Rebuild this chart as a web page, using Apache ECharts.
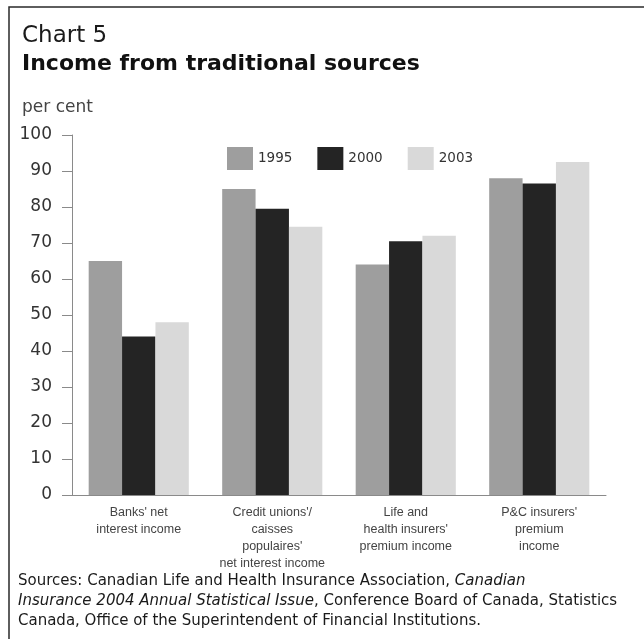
<!DOCTYPE html>
<html>
<head>
<meta charset="utf-8">
<script src="https://cdn.jsdelivr.net/npm/echarts@6/dist/echarts.min.js"></script>
<style>
html,body{margin:0;padding:0;background:#fff;}
#chart{width:644px;height:639px;}
</style>
</head>
<body>
<div id="chart"></div>
<script>
var categories = [
  "Banks' net\ninterest income",
  "Credit unions'/\ncaisses\npopulaires'\nnet interest income",
  "Life and\nhealth insurers'\npremium income",
  "P&C insurers'\npremium\nincome"
];
var seriesNames = ["1995", "2000", "2003"];
var values1995 = [65, 85, 64, 88];
var values2000 = [44, 79.5, 70.5, 86.5];
var values2003 = [48, 74.5, 72, 92.5];
var yTicks = [0, 10, 20, 30, 40, 50, 60, 70, 80, 90, 100];

var colors = ["#9e9e9e", "#242424", "#d9d9d9"];
var chart = echarts.init(document.getElementById('chart'), null, {renderer: 'canvas'});
var allValues = [values1995, values2000, values2003];

chart.setOption({
  backgroundColor: '#ffffff',
  animation: false,
  graphic: [{
    type: 'rect',
    shape: {x: 9, y: 7, width: 700, height: 700},
    style: {fill: 'none', stroke: '#2a2a2a', lineWidth: 1.5},
    silent: true
  }],
  title: [
    {text: 'Chart 5', left: 17, top: 20,
     textStyle: {fontFamily: 'DejaVu Sans', fontSize: 23, fontWeight: 'normal', color: '#1a1a1a'}},
    {text: 'Income from traditional sources', left: 17, top: 48,
     textStyle: {fontFamily: 'DejaVu Sans', fontSize: 22, fontWeight: 'bold', color: '#111'}},
    {text: 'per cent', left: 17, top: 94,
     textStyle: {fontFamily: 'DejaVu Sans', fontSize: 17, fontWeight: 'normal', color: '#444'}},
    {left: 13, top: 566,
     text: '{n|Sources: Canadian Life and Health Insurance Association, }{i|Canadian}\n' +
           '{i|Insurance 2004 Annual Statistical Issue}{n|, Conference Board of Canada, Statistics}\n' +
           '{n|Canada, Office of the Superintendent of Financial Institutions.}',
     textStyle: {
       fontWeight: 'normal',
       rich: {
         n: {fontFamily: 'DejaVu Sans', fontSize: 15, fontWeight: 'normal', color: '#1a1a1a', lineHeight: 20},
         i: {fontFamily: 'DejaVu Sans', fontSize: 15, fontWeight: 'normal', fontStyle: 'italic', color: '#1a1a1a', lineHeight: 20}
       }
     }}
  ],
  legend: {
    data: seriesNames,
    left: 222, top: 142,
    itemWidth: 26, itemHeight: 23, itemGap: 25,
    icon: 'rect',
    textStyle: {fontFamily: 'DejaVu Sans', fontSize: 13.5, color: '#333'}
  },
  grid: {left: 72, right: 38, top: 135, bottom: 144, containLabel: false},
  xAxis: {
    type: 'category',
    data: categories,
    axisLine: {lineStyle: {color: '#8a8a8a', width: 1}},
    axisTick: {show: false},
    axisLabel: {
      interval: 0, margin: 9,
      fontFamily: 'Liberation Sans', fontSize: 12.5, color: '#444', lineHeight: 17
    }
  },
  yAxis: {
    type: 'value',
    min: yTicks[0], max: yTicks[yTicks.length - 1], interval: 10,
    splitLine: {show: false},
    axisLine: {show: true, lineStyle: {color: '#8a8a8a', width: 1}},
    axisTick: {show: true, length: 10, lineStyle: {color: '#8a8a8a'}},
    axisLabel: {margin: 20, fontFamily: 'DejaVu Sans', fontSize: 17, color: '#333'}
  },
  series: seriesNames.map(function (name, i) {
    return {
      name: name,
      type: 'bar',
      data: allValues[i],
      barGap: '0%',
      barCategoryGap: '25%',
      itemStyle: {color: colors[i]}
    };
  })
});
</script>
</body>
</html>
